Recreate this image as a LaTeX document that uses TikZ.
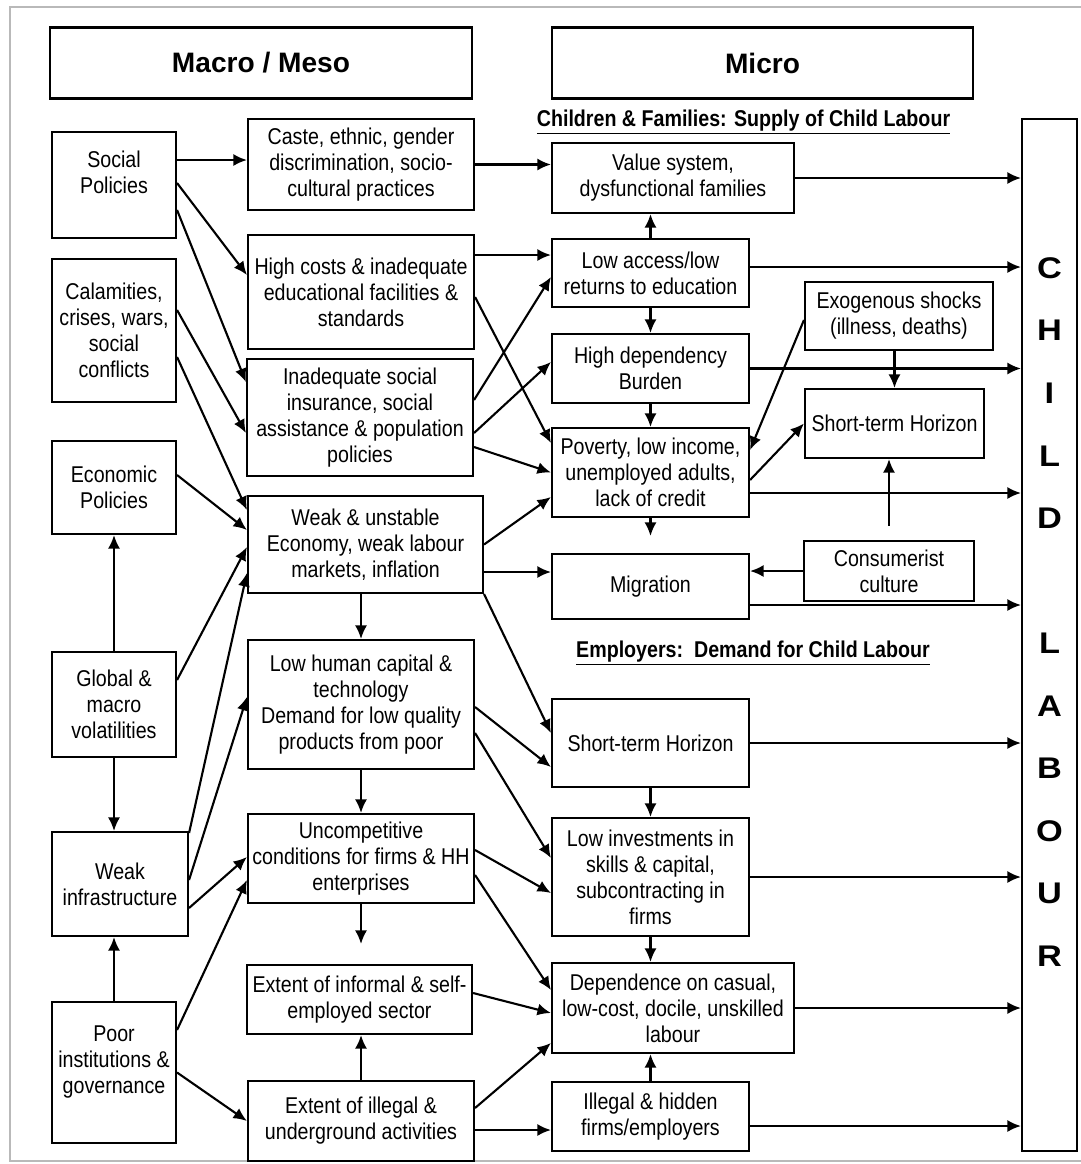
\documentclass[tikz,border=0pt]{standalone}
\usepackage{fontspec}
\setmainfont{Liberation Sans}[FakeStretch=0.86]
\newfontfamily\headfont{Liberation Sans}
\newfontfamily\widefont{Liberation Sans}[FakeStretch=1.15]
\usetikzlibrary{positioning}
\usetikzlibrary{arrows.meta}

\tikzset{
  box/.style={draw, align=center, inner sep=1pt, font=\fontsize{13}{14.8}\selectfont},
  head/.style={draw, font=\headfont\bfseries\fontsize{16}{19}\selectfont},
  sub/.style={font=\bfseries\fontsize{13}{15}\selectfont},
  letters/.style={align=center, font=\widefont\bfseries\fontsize{17}{35.6}\selectfont},
  wh/.style 2 args={minimum width=#1*0.02cm, minimum height=#2*0.02cm},
}

\begin{document}
\begin{tikzpicture}
[x=0.02cm, y=-0.02cm, >={Latex[length=0.27cm, width=0.24cm]}, line width=1.2pt]

\useasboundingbox (0,0) rectangle (1080,1164);
\draw[gray!55, line width=0.6pt] (10,7) rectangle (1090,1161);

% Headings:
\node[head, wh={422}{71}] (macro) at (261,63) {Macro / Meso};
\node[head, wh={421}{71}] (micro) at (762.5,63) {Micro};
\node[sub] (supply) at (743.5,122) {\underline{Children \& Families: Supply of Child Labour}};
\node[sub] (demand) at (753,653) {\underline{Employers:\ \ Demand for Child Labour}};

% Macro causes:
\node[box, wh={124}{106}] (social) at (114,185)   {Social\\Policies\\~};
\node[box, wh={124}{143}] (calam)  at (114,330.5) {Calamities,\\crises, wars,\\social\\conflicts};
\node[box, wh={124}{93}]  (econ)   at (114,487.5) {Economic\\Policies};
\node[box, wh={124}{105}] (global) at (114,704.5) {Global \&\\macro\\volatilities};
\node[box, wh={136}{104}] (infra)  at (120,884)   {Weak\\infrastructure};
\node[box, wh={124}{141}] (poor)   at (114,1072.5) {Poor\\institutions \&\\governance\\~};

% Meso conditions:
\node[box, wh={226}{91}]  (caste)    at (361,164.5)   {Caste, ethnic, gender\\discrimination, socio-\\cultural practices};
\node[box, wh={226}{114}] (costs)    at (361,292)     {High costs \& inadequate\\educational facilities \&\\standards};
\node[box, wh={226}{117}] (insur)    at (360,417.5)   {Inadequate social\\insurance, social\\assistance \& population\\policies};
\node[box, wh={235}{97}]  (weak)     at (365.5,544.5) {Weak \& unstable\\Economy, weak labour\\markets, inflation};
\node[box, wh={226}{129}] (human)    at (361,704.5)   {Low human capital \&\\technology\\Demand for low quality\\products from poor};
\node[box, wh={226}{89}]  (uncomp)   at (361,858.5)   {Uncompetitive\\conditions for firms \& HH\\enterprises};
\node[box, wh={225}{69}]  (informal) at (359.5,999.5) {Extent of informal \& self-\\employed sector};
\node[box, wh={226}{80}]  (illegal)  at (361,1121)    {Extent of illegal \&\\underground activities};

% Micro, supply side:
\node[box, wh={242}{70}] (value)   at (673,178)     {Value system,\\dysfunctional families};
\node[box, wh={197}{68}] (access)  at (650.5,273)   {Low access/low\\returns to education};
\node[box, wh={197}{69}] (depend)  at (650.5,368.5) {High dependency\\Burden};
\node[box, wh={197}{89}] (poverty) at (650.5,472.5) {Poverty, low income,\\unemployed adults,\\lack of credit};
\node[box, wh={197}{65}] (migr)    at (650.5,586.5) {Migration};
\node[box, wh={188}{68}] (exo)     at (899,316)     {Exogenous shocks\\(illness, deaths)};
\node[box, wh={179}{69}] (shortA)  at (894.5,423.5) {Short-term Horizon};
\node[box, wh={170}{60}] (consum)  at (889,571)     {Consumerist\\culture};

% Micro, demand side:
\node[box, wh={197}{88}]  (shortB) at (650.5,743)    {Short-term Horizon};
\node[box, wh={197}{118}] (invest) at (650.5,877)    {Low investments in\\skills \& capital,\\subcontracting in\\firms};
\node[box, wh={242}{90}]  (depen)  at (673,1008)     {Dependence on casual,\\low-cost, docile, unskilled\\labour};
\node[box, wh={197}{69}]  (hidden) at (650.5,1116.5) {Illegal \& hidden\\firms/employers};

% Outcome:
\node[draw, wh={55}{1032}] (labour) at (1049.5,635) {};
\node[letters] (word) at (1049.5,612) {C\\H\\I\\L\\D\\~\\L\\A\\B\\O\\U\\R};

% Macro causes to meso conditions:
\draw[->] ([yshift=.5cm]social.east) -- ([yshift=.5cm]social.east -| caste.west);
\draw[->] ([yshift=.04cm]social.east) -- ([yshift=.34cm]costs.west);
\draw[->] ([yshift=-.5cm]social.east) -- ([yshift=.71cm]insur.west);
\draw[->] ([yshift=.41cm]calam.east) -- ([yshift=-.31cm]insur.west);
\draw[->] ([yshift=-.53cm]calam.east) -- ([yshift=.69cm]weak.west);
\draw[->] ([yshift=.25cm]econ.east) -- ([yshift=.29cm]weak.west);
\draw[->] ([yshift=.49cm]global.east) -- ([yshift=-.05cm]weak.west);
\draw[->] ([yshift=1.02cm]infra.east) -- ([yshift=-.57cm]weak.west);
\draw[->] ([yshift=.08cm]infra.east) -- ([yshift=.15cm]human.west);
\draw[->] ([yshift=-.48cm]infra.east) -- ([yshift=.03cm]uncomp.west);
\draw[->] ([yshift=.85cm]poor.east) -- ([yshift=-.43cm]uncomp.west);
\draw[->] (poor.east) -- (illegal.west);

% Left column links:
\draw[->] (global.north) -- (econ.south);
\draw[->] (global.south) -- (global.south |- infra.north);
\draw[->] (poor.north) -- (poor.north |- infra.south);

% Meso chain:
\draw[->] (human.north |- weak.south) -- (human.north);
\draw[->] (human.south) -- (uncomp.north);
\draw[->, shorten >=0.4cm] (uncomp.south) -- (uncomp.south |- informal.north);
\draw[->] (illegal.north) -- (illegal.north |- informal.south);

% Meso to micro:
\draw[->] (caste.east) -- (caste.east -| value.west);
\draw[->] ([yshift=.74cm]costs.east) -- ([yshift=.74cm]costs.east -| access.west);
\draw[->] ([yshift=-.1cm]costs.east) -- ([yshift=.59cm]poverty.west);
\draw[->] ([yshift=.35cm]insur.east) -- ([yshift=-.08cm]access.west);
\draw[->] ([yshift=-.31cm]insur.east) -- ([yshift=.13cm]depend.west);
\draw[->] ([yshift=-.59cm]insur.east) -- (poverty.west);
\draw[->] (weak.east) -- ([yshift=-.49cm]poverty.west);
\draw[->] ([yshift=-.55cm]weak.east) -- ([yshift=-.55cm]weak.east -| migr.west);
\draw[->] (weak.south east) -- ([yshift=.2cm]shortB.west);
\draw[->] ([yshift=-.05cm]human.east) -- ([yshift=-.48cm]shortB.west);
\draw[->] ([yshift=-.57cm]human.east) -- ([yshift=.38cm]invest.west);
\draw[->] ([yshift=.17cm]uncomp.east) -- ([yshift=-.32cm]invest.west);
\draw[->] ([yshift=-.33cm]uncomp.east) -- ([yshift=.36cm]depen.west);
\draw[->] ([yshift=.13cm]informal.east) -- ([yshift=-.1cm]depen.west);
\draw[->] ([yshift=.26cm]illegal.east) -- ([yshift=-.7cm]depen.west);
\draw[->] ([yshift=-.18cm]illegal.east) -- ([yshift=-.18cm]illegal.east -| hidden.west);

% Micro links:
\draw[->] (access.north) -- (access.north |- value.south);
\draw[->] (access.south) -- (depend.north);
\draw[->] (depend.south) -- (poverty.north);
\draw[->, shorten >=0.34cm] (poverty.south) -- (migr.north);
\draw[->] ([yshift=-.08cm]exo.west) -- ([yshift=.45cm]poverty.east);
\draw[->] ([yshift=-.15cm]poverty.east) -- (shortA.west);
\draw[->] (shortA.north |- exo.south) -- (shortA.north);
\draw[->, shorten <=0.28cm] (consum.north) -- (consum.north |- shortA.south);
\draw[->] (consum.west) -- (consum.west -| migr.east);
\draw[->] (shortB.south) -- (invest.north);
\draw[->] (invest.south) -- (invest.south |- depen.north);
\draw[->] (hidden.north) -- (hidden.north |- depen.south);

% Arrows into child labour:
\draw[->] (value.east) -- (value.east -| labour.west);
\draw[->] ([yshift=.12cm]access.east) -- ([yshift=.12cm]access.east -| labour.west);
\draw[->] (depend.east) -- (depend.east -| labour.west);
\draw[->] ([yshift=-.41cm]poverty.east) -- ([yshift=-.41cm]poverty.east -| labour.west);
\draw[->] ([yshift=-.37cm]migr.east) -- ([yshift=-.37cm]migr.east -| labour.west);
\draw[->] (shortB.east) -- (shortB.east -| labour.west);
\draw[->] (invest.east) -- (invest.east -| labour.west);
\draw[->] (depen.east) -- (depen.east -| labour.west);
\draw[->] ([yshift=-.19cm]hidden.east) -- ([yshift=-.19cm]hidden.east -| labour.west);

\end{tikzpicture}
\end{document}
